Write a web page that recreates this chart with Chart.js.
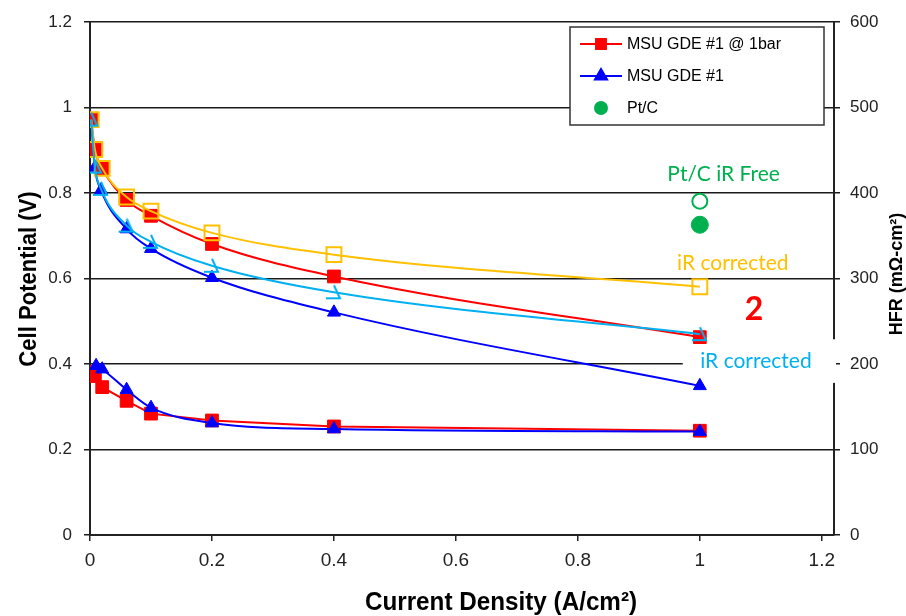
<!DOCTYPE html>
<html>
<head>
<meta charset="utf-8">
<script src="https://cdn.jsdelivr.net/npm/chart.js@4.4.1/dist/chart.umd.min.js"></script>
<style>
  html, body { margin: 0; padding: 0; background: #fff; }
  #wrap { width: 906px; height: 616px; position: relative; }
</style>
</head>
<body>
<div id="wrap"><canvas id="c" width="906" height="616"></canvas></div>
<script>
// MSU GDE #1 @ 1bar: polarization, iR-corrected polarization and HFR
const barJ      = [0.002, 0.008, 0.02, 0.06, 0.1, 0.2, 0.4, 1.0];
const barV      = [0.972, 0.902, 0.858, 0.784, 0.747, 0.681, 0.605, 0.463];
const barVir    = [0.972, 0.902, 0.858, 0.791, 0.758, 0.707, 0.656, 0.581];
const barHfrJ   = [0.002, 0.008, 0.02, 0.06, 0.1, 0.2, 0.4, 1.0];
const barHfr    = [191, 186, 173, 157, 142, 134, 127, 122];

// MSU GDE #1: polarization, iR-corrected polarization and HFR
const gdeJ      = [0.002, 0.008, 0.018, 0.06, 0.1, 0.2, 0.4, 1.0];
const gdeV      = [0.972, 0.860, 0.807, 0.716, 0.670, 0.602, 0.521, 0.349];
const gdeVir    = [0.972, 0.862, 0.810, 0.724, 0.686, 0.630, 0.568, 0.470];
const gdeHfrJ   = [0.01, 0.02, 0.06, 0.1, 0.2, 0.4, 1.0];
const gdeHfr    = [198, 194, 170, 149, 131, 124, 121];

// Pt/C reference at 1 A/cm2
const ptcJ      = [1.0];
const ptcV      = [0.726];
const ptcVirFree = [0.781];

// Axis ticks
const xTicks  = [0, 0.2, 0.4, 0.6, 0.8, 1, 1.2];

const RED = '#FF0000', BLUE = '#0000FF', ORANGE = '#FFC000', CYAN = '#00B0F0', GREEN = '#00B050';
const SANS = "'Liberation Sans', Arial, sans-serif";
const LABEL = "Lato, 'Open Sans', sans-serif";

const pts = (xs, ys) => xs.map((x, i) => ({ x, y: ys[i] }));

// open wedge marker used for the iR-corrected MSU GDE #1 series
function wedgeMarker(color) {
  const c = document.createElement('canvas');
  c.width = 18; c.height = 18;
  const g = c.getContext('2d');
  g.strokeStyle = color; g.lineWidth = 2; g.lineJoin = 'miter';
  g.beginPath(); g.moveTo(9, 2); g.lineTo(15, 15); g.lineTo(1, 15); g.stroke();
  return c;
}

const overlay = {
  id: 'overlay',
  beforeDatasetsDraw(chart, args, o) {
    const { ctx, scales: { x, y } } = chart;
    const m = o.mask;
    const x0 = x.getPixelForValue(m.x0), y0 = y.getPixelForValue(m.y0), y1 = y.getPixelForValue(m.y1);
    ctx.save();
    ctx.fillStyle = '#fff';
    ctx.fillRect(x0, y0, m.right - x0, y1 - y0);
    ctx.restore();
  },
  afterDraw(chart, args, o) {
    const { ctx, scales: { x, y } } = chart;
    ctx.save();
    // callout labels
    ctx.textAlign = 'center';
    ctx.textBaseline = 'middle';
    o.notes.forEach(n => {
      ctx.fillStyle = n.color;
      ctx.font = n.font;
      ctx.fillText(n.text, x.getPixelForValue(n.x), y.getPixelForValue(n.y));
    });

    // axis titles
    o.titles.forEach(t => {
      ctx.save();
      ctx.translate(t.cx, t.cy);
      ctx.rotate(t.rot);
      ctx.scale(t.sx || 1, 1);
      ctx.fillStyle = '#000';
      ctx.font = t.font;
      ctx.fillText(t.text, 0, 0);
      ctx.restore();
    });

    // legend box
    const L = o.legend;
    ctx.fillStyle = '#fff';
    ctx.strokeStyle = '#333';
    ctx.lineWidth = 1.5;
    ctx.fillRect(L.left, L.top, L.width, L.height);
    ctx.strokeRect(L.left, L.top, L.width, L.height);
    ctx.textAlign = 'left';
    ctx.textBaseline = 'middle';
    ctx.font = L.font;
    L.items.forEach((idx, k) => {
      const ds = chart.data.datasets[idx];
      const yy = L.top + L.firstRow + k * L.rowGap;
      if (ds.showLine !== false) {
        ctx.strokeStyle = ds.borderColor;
        ctx.lineWidth = 2;
        ctx.beginPath();
        ctx.moveTo(L.left + 10, yy);
        ctx.lineTo(L.left + 52, yy);
        ctx.stroke();
      }
      ctx.fillStyle = ds.pointBackgroundColor;
      ctx.strokeStyle = ds.pointBorderColor;
      Chart.helpers.drawPoint(ctx, {
        pointStyle: ds.pointStyle, radius: L.markerRadius[k], rotation: 0, borderWidth: 1
      }, L.left + 31, yy);
      ctx.fillStyle = '#000';
      ctx.fillText(ds.label, L.left + 57, yy + 1);
    });
    ctx.restore();
  }
};

const lineDs = (label, xs, ys, color, style, radius, extra) => Object.assign({
  label, data: pts(xs, ys), yAxisID: 'y',
  borderColor: color, backgroundColor: color, borderWidth: 2,
  pointStyle: style, pointRadius: radius, pointHoverRadius: radius,
  pointBackgroundColor: color, pointBorderColor: color, pointBorderWidth: 1,
  cubicInterpolationMode: 'monotone', fill: false
}, extra || {});

const datasets = [
  lineDs('MSU GDE #1 @ 1bar', barJ, barV, RED, 'rect', 9, { order: 4 }),
  lineDs('MSU GDE #1', gdeJ, gdeV, BLUE, 'triangle', 7.5, { order: 5 }),
  lineDs('Pt/C', ptcJ, ptcV, GREEN, 'circle', 8.5, { showLine: false, order: 1 }),
  lineDs('MSU GDE #1 @ 1bar iR corrected', barJ, barVir, ORANGE, 'rect', 10.5,
    { pointBackgroundColor: 'rgba(0,0,0,0)', pointBorderWidth: 2, order: 3 }),
  lineDs('MSU GDE #1 iR corrected', gdeJ, gdeVir, CYAN, wedgeMarker(CYAN), 9, { order: 2 }),
  lineDs('Pt/C iR free', ptcJ, ptcVirFree, GREEN, 'circle', 7.5,
    { showLine: false, pointBackgroundColor: 'rgba(0,0,0,0)', pointBorderWidth: 2, order: 1 }),
  lineDs('MSU GDE #1 @ 1bar HFR', barHfrJ, barHfr, RED, 'rect', 9,
    { yAxisID: 'y2', cubicInterpolationMode: 'default', tension: 0, order: 7 }),
  lineDs('MSU GDE #1 HFR', gdeHfrJ, gdeHfr, BLUE, 'triangle', 7.5, { yAxisID: 'y2', order: 6 })
];

new Chart(document.getElementById('c'), {
  type: 'line',
  data: { datasets },
  plugins: [overlay],
  options: {
    responsive: false,
    animation: false,
    events: [],
    layout: { padding: { top: 19, left: 0, right: 0, bottom: 0 } },
    plugins: {
      legend: { display: false },
      tooltip: { enabled: false },
      overlay: {
        mask: { x0: 0.972, y0: 0.458, y1: 0.356, right: 836 },
        notes: [
          { text: 'Pt/C iR Free', x: 1.039, y: 0.844, color: GREEN, font: `21px ${LABEL}` },
          { text: 'iR corrected', x: 1.054, y: 0.635, color: ORANGE, font: `21px ${LABEL}` },
          { text: '2', x: 1.089, y: 0.528, color: RED, font: `bold 32px ${LABEL}` },
          { text: 'iR corrected', x: 1.092, y: 0.407, color: CYAN, font: `21px ${LABEL}` }
        ],
        titles: [
          { text: 'Cell Potential (V)', cx: 30, cy: 279, rot: -Math.PI / 2, font: `bold 23px ${SANS}`, sx: 0.96 },
          { text: 'Current Density (A/cm²)', cx: 501, cy: 603, rot: 0, font: `bold 25px ${SANS}`, sx: 0.97 },
          { text: 'HFR (mΩ-cm²)', cx: 897, cy: 274, rot: -Math.PI / 2, font: `bold 18px ${SANS}` }
        ],
        legend: {
          left: 570, top: 27, width: 254, height: 98, firstRow: 17, rowGap: 32,
          items: [0, 1, 2], markerRadius: [7, 7, 6], font: `16px ${SANS}`
        }
      }
    },
    scales: {
      x: {
        type: 'linear', position: 'bottom', min: 0, max: 1.22,
        afterBuildTicks: s => { s.ticks = xTicks.map(v => ({ value: v })); },
        afterFit: s => { s.height = 81; },
        grid: { drawOnChartArea: false, drawTicks: true, tickLength: 6, color: '#222', lineWidth: 1.5 },
        border: { display: true, color: '#222', width: 2 },
        ticks: { color: '#222', padding: 8, font: { family: SANS, size: 19 }, maxRotation: 0,
                 callback: v => String(v) }
      },
      y: {
        type: 'linear', position: 'left', min: 0, max: 1.2,
        afterFit: s => { s.width = 90; },
        grid: { color: '#1a1a1a', lineWidth: 1.5, drawTicks: true, tickLength: 6 },
        border: { display: true, color: '#222', width: 2 },
        ticks: { stepSize: 0.2, color: '#222', padding: 12, font: { family: SANS, size: 17 },
                 callback: v => String(+v.toFixed(1)) }
      },
      y2: {
        type: 'linear', position: 'right', min: 0, max: 600,
        afterFit: s => { s.width = 72; },
        grid: { drawOnChartArea: false, drawTicks: true, tickLength: 6, color: '#1a1a1a', lineWidth: 1.5 },
        border: { display: true, color: '#222', width: 2 },
        ticks: { stepSize: 100, color: '#222', padding: 10, font: { family: SANS, size: 17 } }
      }
    }
  }
});
</script>
</body>
</html>
